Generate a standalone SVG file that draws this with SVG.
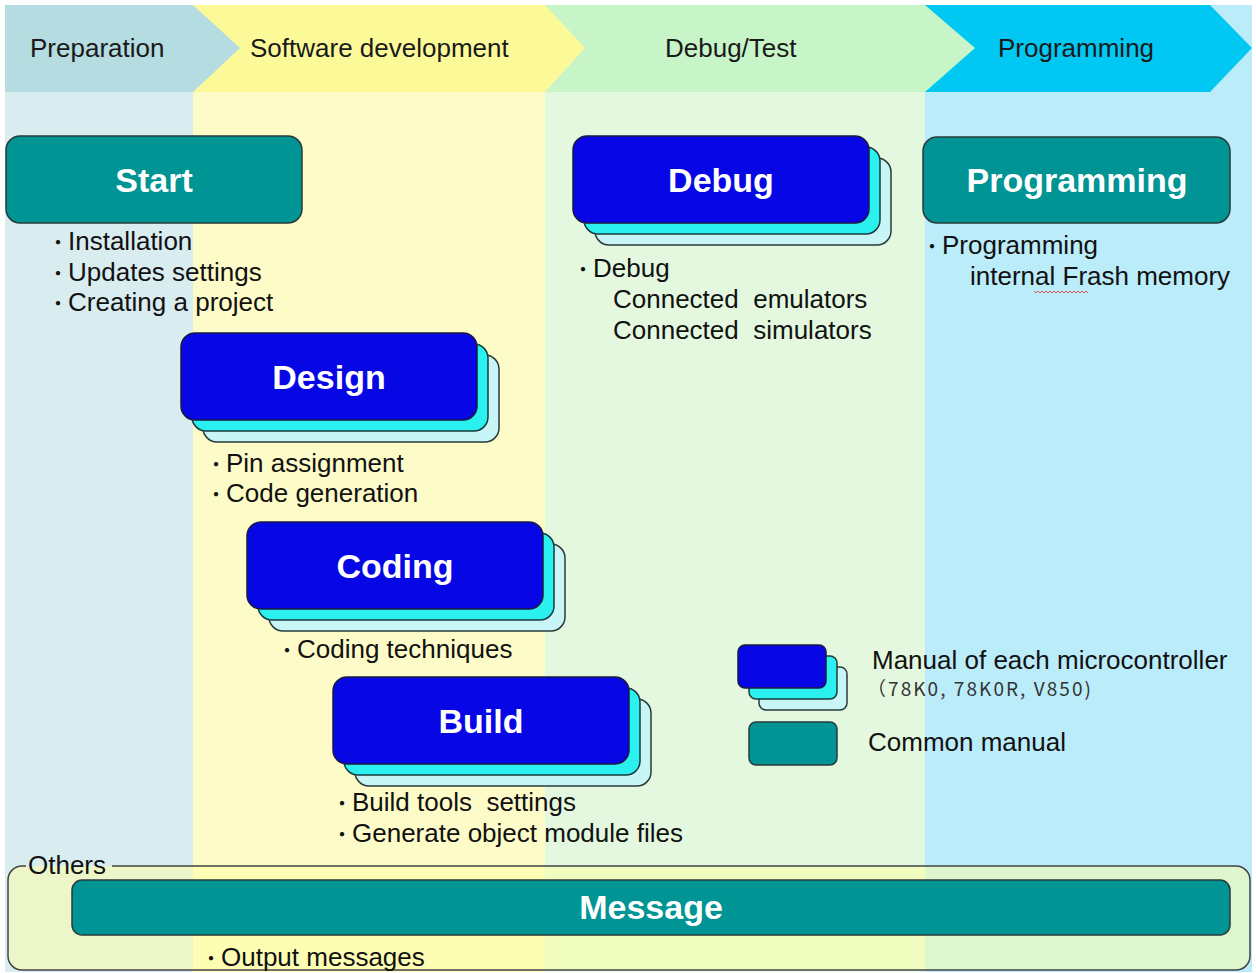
<svg xmlns="http://www.w3.org/2000/svg" width="1256" height="973" viewBox="0 0 1256 973">
<style>
.lbl{font-family:"Liberation Sans",Arial,sans-serif;font-weight:bold;font-size:34px;fill:#ffffff;text-anchor:middle}
.ban{font-family:"Liberation Sans",Arial,sans-serif;font-size:26px;fill:#1a1a1a}
.txt{font-family:"Liberation Sans",Arial,"Noto Sans CJK JP",sans-serif;font-size:26px;fill:#111111}
.dot{font-family:"Noto Sans CJK JP",sans-serif;font-size:20px}
.teal{fill:#009494;stroke:#2a3a3a;stroke-width:1.5}
.blue{fill:#0707e6;stroke:#1a1a40;stroke-width:1.5}
.cyan{fill:#2af0f0;stroke:#1a3a3a;stroke-width:1.5}
.back{fill:#c8f6f6;stroke:#2a3a3a;stroke-width:1.5}
</style>
<defs>
<g id="stack">
<rect class="back" x="22" y="22" width="296" height="87" rx="14"/>
<rect class="cyan" x="11" y="11" width="296" height="87" rx="14"/>
<rect class="blue" x="0" y="0" width="296" height="87" rx="14"/>
</g>
</defs>
<rect width="1256" height="973" fill="#ffffff"/>
<g id="columns">
<rect x="5" y="5" width="188" height="967" fill="#d9edf0"/>
<rect x="193" y="5" width="352" height="967" fill="#fdfbc8"/>
<rect x="545" y="5" width="380" height="967" fill="#e3f8de"/>
<rect x="925" y="5" width="327" height="967" fill="#bbecfa"/>
</g>
<g id="banner">
<polygon points="925,5 1210,5 1252,48 1210,92 925,92" fill="#00c8f2"/>
<polygon points="545,5 925,5 975,48 925,92 545,92" fill="#c8f5c8"/>
<polygon points="193,5 545,5 585,48 545,92 193,92" fill="#fcfa98"/>
<polygon points="5,5 193,5 240,48 193,92 5,92" fill="#b5dce1"/>
<text class="ban" x="30" y="57">Preparation</text>
<text class="ban" x="250" y="57">Software development</text>
<text class="ban" x="665" y="57">Debug/Test</text>
<text class="ban" x="998" y="57">Programming</text>
</g>
<g id="others">
<rect x="8" y="866" width="1242" height="104" rx="14" fill="#ffffa0" fill-opacity="0.5"/>
<path d="M112 866 H1236 A14 14 0 0 1 1250 880 V956 A14 14 0 0 1 1236 970 H22 A14 14 0 0 1 8 956 V880 A14 14 0 0 1 22 866 H26" fill="none" stroke="#444" stroke-width="1.5"/>
<text class="txt" x="28" y="874" font-size="25">Others</text>
</g>
<g id="start">
<rect class="teal" x="6" y="136" width="296" height="87" rx="14"/>
<text class="lbl" x="154" y="192">Start</text>
<text class="txt" x="48" y="250"><tspan class="dot">・</tspan>Installation</text>
<text class="txt" x="48" y="281"><tspan class="dot">・</tspan>Updates settings</text>
<text class="txt" x="48" y="311"><tspan class="dot">・</tspan>Creating a project</text>
</g>
<g id="design">
<use href="#stack" x="181" y="333"/>
<text class="lbl" x="329" y="389">Design</text>
<text class="txt" x="206" y="472"><tspan class="dot">・</tspan>Pin assignment</text>
<text class="txt" x="206" y="502"><tspan class="dot">・</tspan>Code generation</text>
</g>
<g id="coding">
<use href="#stack" x="247" y="522"/>
<text class="lbl" x="395" y="578">Coding</text>
<text class="txt" x="277" y="658"><tspan class="dot">・</tspan>Coding techniques</text>
</g>
<g id="build">
<use href="#stack" x="333" y="677"/>
<text class="lbl" x="481" y="733">Build</text>
<text class="txt" x="332" y="811" xml:space="preserve"><tspan class="dot">・</tspan>Build tools  settings</text>
<text class="txt" x="332" y="842"><tspan class="dot">・</tspan>Generate object module files</text>
</g>
<g id="debug">
<use href="#stack" x="573" y="136"/>
<text class="lbl" x="721" y="192">Debug</text>
<text class="txt" x="573" y="277"><tspan class="dot">・</tspan>Debug</text>
<text class="txt" x="613" y="308" xml:space="preserve">Connected  emulators</text>
<text class="txt" x="613" y="339" xml:space="preserve">Connected  simulators</text>
</g>
<g id="programming">
<rect class="teal" x="923" y="137" width="307" height="86" rx="14"/>
<text class="lbl" x="1077" y="192">Programming</text>
<text class="txt" x="922" y="254"><tspan class="dot">・</tspan>Programming</text>
<text class="txt" x="970" y="285">internal Frash memory</text>
<path d="M1034 291 l2 2 l2 -2 l2 2 l2 -2 l2 2 l2 -2 l2 2 l2 -2 l2 2 l2 -2 l2 2 l2 -2 l2 2 l2 -2 l2 2 l2 -2 l2 2 l2 -2 l2 2 l2 -2 l2 2 l2 -2 l2 2 l2 -2 l2 2 l2 -2 l2 2" fill="none" stroke="#e03030" stroke-width="0.8"/>
</g>
<g id="legend">
<rect class="back" x="759" y="667" width="88" height="43" rx="7"/>
<rect class="cyan" x="749" y="656" width="88" height="43" rx="7"/>
<rect class="blue" x="738" y="645" width="88" height="43" rx="7"/>
<rect class="teal" x="749" y="722" width="88" height="43" rx="7"/>
<text class="txt" x="872" y="669">Manual of each microcontroller</text>
<text x="867" y="696" font-family="Noto Sans CJK JP, sans-serif" font-size="19" fill="#333" textLength="224" lengthAdjust="spacing">（78K0, 78K0R, V850)</text>
<text class="txt" x="868" y="751">Common manual</text>
</g>
<g id="message">
<rect class="teal" x="72" y="880" width="1158" height="55" rx="10"/>
<text class="lbl" x="651" y="919">Message</text>
<text class="txt" x="201" y="966"><tspan class="dot">・</tspan>Output messages</text>
</g>
<g id="connectors"/>
</svg>
